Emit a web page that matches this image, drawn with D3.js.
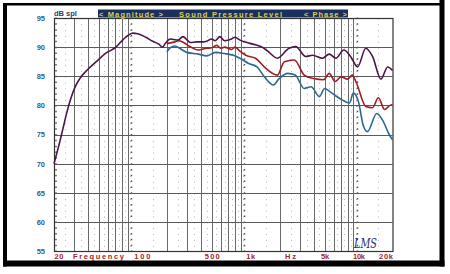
<!DOCTYPE html>
<html>
<head>
<meta charset="utf-8">
<script src="https://cdn.jsdelivr.net/npm/d3@7"></script>
<style>
  body { margin: 0; background: #fff; }
  svg { display: block; font-family: "Liberation Sans", Arial, sans-serif; }
</style>
</head>
<body>
<div id="chart"></div>
<script>
// Response curves (Hz, dB SPL)
const topFreq = [20, 22, 24, 26, 28, 31, 35, 40, 48, 58, 70, 82, 92, 100, 110, 130, 150, 170, 183, 195, 214, 230, 250, 278, 300, 322, 370, 420, 450, 500, 535, 590, 650, 750, 805, 890, 1060, 1220, 1400, 1550, 1910, 2420, 2770, 3400, 3900, 4800, 5500, 6300, 7400, 8500, 9800, 11600, 13300, 15800, 18100, 20000];
const topDb = [70.0, 73.0, 76.0, 78.8, 81.0, 83.3, 85.0, 86.2, 87.6, 89.0, 89.9, 91.3, 92.1, 92.4, 92.3, 91.7, 91.0, 90.5, 90.0, 90.7, 91.4, 91.3, 91.2, 91.8, 91.3, 90.8, 90.9, 90.9, 91.0, 91.4, 91.1, 91.8, 91.1, 91.4, 91.7, 91.2, 90.7, 90.4, 90.0, 89.4, 88.1, 89.8, 90.1, 88.4, 88.6, 88.1, 88.8, 88.1, 89.5, 88.4, 86.6, 89.8, 88.4, 84.5, 86.6, 86.0];

const midFreq = [200, 236, 255, 281, 320, 380, 450, 500, 555, 600, 650, 750, 805, 890, 1000, 1220, 1500, 1910, 2200, 2700, 3300, 4000, 4900, 5500, 6200, 7000, 8000, 8800, 9600, 11600, 13300, 15000, 17000, 19000, 20000];
const midDb = [90.6, 90.9, 91.1, 90.8, 90.1, 89.5, 89.8, 89.9, 90.3, 89.8, 90.0, 89.6, 90.0, 89.3, 88.6, 88.1, 86.4, 85.2, 87.5, 87.8, 85.2, 84.6, 84.4, 85.5, 84.1, 84.9, 84.5, 85.2, 83.8, 79.8, 79.6, 81.3, 79.3, 80.0, 80.1];

const lowFreq = [200, 215, 236, 260, 300, 380, 450, 540, 650, 780, 890, 1060, 1260, 1450, 1750, 1980, 2350, 2750, 3300, 3800, 4500, 5000, 5800, 7200, 8300, 9000, 10000, 11000, 12000, 14500, 16500, 18700, 20000];
const lowDb = [89.2, 89.9, 90.2, 89.8, 89.1, 88.8, 88.5, 89.1, 88.9, 88.6, 88.1, 87.2, 86.6, 85.0, 83.5, 84.6, 85.5, 85.2, 82.9, 83.2, 81.5, 82.9, 82.1, 80.9, 80.4, 82.1, 80.6, 76.6, 75.5, 78.6, 77.3, 75.0, 74.1];

// Axis labels
const yTicks = [55, 60, 65, 70, 75, 80, 85, 90, 95];
const xLabelValues = [20, 100, 500, 1000, 5000, 10000, 20000];
const xLabelText = ["20", "100", "500", "1k", "5k", "10k", "20k"];

const width = 450;
const height = 274;
const plot = { left: 54, right: 392.5, top: 18, bottom: 251 };

const svg = d3
  .select("#chart")
  .append("svg")
  .attr("width", width)
  .attr("height", height);

// Scales
const x = d3.scaleLog().domain([20, 20000]).range([plot.left, plot.right]);
const y = d3.scaleLinear().domain([55, 95]).range([plot.bottom, plot.top]);
const dbStep = (plot.bottom - plot.top) / 40;

// Grid frequencies: solid at 1..9 per decade, dotted halfway between
const solidFreqs = [];
const dottedFreqs = [];
[10, 100, 1000, 10000].forEach((dec) => {
  for (let m = 1; m <= 9; m++) {
    if (m * dec > 20 && m * dec < 20000 && m !== 1) solidFreqs.push(m * dec);
    if ((m + 0.5) * dec > 20 && (m + 0.5) * dec < 20000) dottedFreqs.push((m + 0.5) * dec);
  }
});
const decadeFreqs = [100, 1000, 10000];

const grid = svg.append("g");

grid.selectAll(".dot-line")
  .data(dottedFreqs)
  .enter()
  .append("line")
  .attr("x1", (d) => Math.round(x(d)) + 0.5)
  .attr("x2", (d) => Math.round(x(d)) + 0.5)
  .attr("y1", plot.top + 0.5)
  .attr("y2", plot.bottom)
  .attr("stroke", "#b4b4b4")
  .attr("stroke-width", 1)
  .attr("stroke-dasharray", `1,${dbStep - 1}`);

grid.selectAll(".solid-line")
  .data(solidFreqs)
  .enter()
  .append("line")
  .attr("x1", (d) => Math.round(x(d)) + 0.5)
  .attr("x2", (d) => Math.round(x(d)) + 0.5)
  .attr("y1", plot.top)
  .attr("y2", plot.bottom)
  .attr("stroke", "#6a6a6a")
  .attr("stroke-width", 1);

// dB tick dashes beside the decade lines and left edge
grid.selectAll(".decade-dash")
  .data(decadeFreqs.concat([20]))
  .enter()
  .append("line")
  .attr("x1", (d) => Math.round(x(d)) + (d === 20 ? 2 : -1.5))
  .attr("x2", (d) => Math.round(x(d)) + (d === 20 ? 2 : -1.5))
  .attr("y1", plot.top - 0.5)
  .attr("y2", plot.bottom)
  .attr("stroke", "#555")
  .attr("stroke-width", 1.5)
  .attr("stroke-dasharray", `1.5,${dbStep - 1.5}`);

grid.selectAll(".h-line")
  .data(yTicks)
  .enter()
  .append("line")
  .attr("x1", plot.left)
  .attr("x2", plot.right)
  .attr("y1", (d) => Math.round(y(d)) + 0.5)
  .attr("y2", (d) => Math.round(y(d)) + 0.5)
  .attr("stroke", "#5a5a5a")
  .attr("stroke-width", 1);

// Plot border
svg.append("rect")
  .attr("x", plot.left + 0.5)
  .attr("y", plot.top + 0.5)
  .attr("width", plot.right - plot.left)
  .attr("height", plot.bottom - plot.top)
  .attr("fill", "none")
  .attr("stroke", "#333")
  .attr("stroke-width", 1.2);

// Curves
const line = d3.line()
  .x((d) => x(d[0]))
  .y((d) => y(d[1]))
  .curve(d3.curveMonotoneX);

const curves = [
  { freq: lowFreq, db: lowDb, color: "#2b6890" },
  { freq: midFreq, db: midDb, color: "#a31c22" },
  { freq: topFreq, db: topDb, color: "#4c1548" }
];

svg.selectAll(".curve")
  .data(curves)
  .enter()
  .append("path")
  .attr("class", "curve")
  .attr("d", (c) => line(d3.zip(c.freq, c.db)))
  .attr("fill", "none")
  .attr("stroke", (c) => c.color)
  .attr("stroke-width", 1.6)
  .attr("stroke-linejoin", "round");

// Y axis labels
const yAxis = d3.axisLeft(y).tickValues(yTicks).tickSize(0).tickPadding(9);
svg.append("g")
  .attr("transform", `translate(${plot.left}, 0)`)
  .call(yAxis)
  .call((g) => g.select(".domain").remove())
  .selectAll("text")
  .attr("font-family", "Liberation Sans, Arial, sans-serif")
  .attr("font-size", 7.5)
  .attr("font-weight", "bold")
  .attr("fill", "#2f5f8e");

// X axis labels
const labelWidths = [9, 16, 15, 9, 8, 12, 14];
const labelAnchors = ["start", "start", "middle", "start", "middle", "middle", "end"];
const xAxis = d3.axisBottom(x)
  .tickValues(xLabelValues)
  .tickFormat((d, i) => xLabelText[i])
  .tickSize(0);
svg.append("g")
  .attr("transform", `translate(0, ${plot.bottom})`)
  .call(xAxis)
  .call((g) => g.select(".domain").remove())
  .selectAll("text")
  .attr("y", 8)
  .attr("dy", 0)
  .attr("font-family", "Liberation Sans, Arial, sans-serif")
  .attr("font-size", 7.5)
  .attr("font-weight", "bold")
  .attr("fill", "#a3252a")
  .attr("text-anchor", (d, i) => labelAnchors[i])
  .attr("dx", (d, i) => (i === 1 ? 1 : 0))
  .attr("textLength", (d, i) => labelWidths[i])
  .attr("lengthAdjust", "spacing");

svg.append("text")
  .attr("x", 73)
  .attr("y", 259)
  .attr("font-size", 7.5)
  .attr("font-weight", "bold")
  .attr("fill", "#a3252a")
  .attr("textLength", 51)
  .attr("lengthAdjust", "spacing")
  .text("Frequency");

svg.append("text")
  .attr("x", 285)
  .attr("y", 259)
  .attr("font-size", 7.5)
  .attr("font-weight", "bold")
  .attr("fill", "#a3252a")
  .attr("textLength", 11)
  .attr("lengthAdjust", "spacing")
  .text("Hz");

// Unit label
svg.append("text")
  .attr("x", 54)
  .attr("y", 16)
  .attr("font-size", 7.5)
  .attr("font-weight", "bold")
  .attr("fill", "#1f3f70")
  .text("dB spl");

// Title bar
svg.append("rect")
  .attr("x", 98)
  .attr("y", 9.5)
  .attr("width", 250)
  .attr("height", 8)
  .attr("fill", "#1b2f5c");

const titleParts = [
  { text: "< Magnitude >", x: 99, w: 64 },
  { text: "Sound Pressure Level", x: 179, w: 103 },
  { text: "< Phase >", x: 304, w: 43 }
];
svg.selectAll(".title")
  .data(titleParts)
  .enter()
  .append("text")
  .attr("x", (d) => d.x)
  .attr("y", 16.5)
  .attr("font-size", 7.5)
  .attr("font-weight", "bold")
  .attr("fill", "#d8cf5c")
  .attr("textLength", (d) => d.w)
  .attr("lengthAdjust", "spacing")
  .text((d) => d.text);

// Signature
svg.append("text")
  .attr("x", 354)
  .attr("y", 248)
  .attr("font-family", "DejaVu Serif, serif")
  .attr("font-style", "italic")
  .attr("font-size", 12)
  .attr("fill", "#1e2c78")
  .attr("textLength", 23)
  .attr("lengthAdjust", "spacingAndGlyphs")
  .text("LMS");

// Outer black frame
const frame = [
  { x: 3, y: 3, w: 437, h: 2.5 },
  { x: 3, y: 3, w: 4, h: 263.5 },
  { x: 3, y: 260.5, w: 441.5, h: 6 },
  { x: 439.5, y: 0, w: 5, h: 266.5 }
];
svg.selectAll(".frame")
  .data(frame)
  .enter()
  .append("rect")
  .attr("x", (d) => d.x)
  .attr("y", (d) => d.y)
  .attr("width", (d) => d.w)
  .attr("height", (d) => d.h)
  .attr("fill", "#000");
</script>
</body>
</html>
